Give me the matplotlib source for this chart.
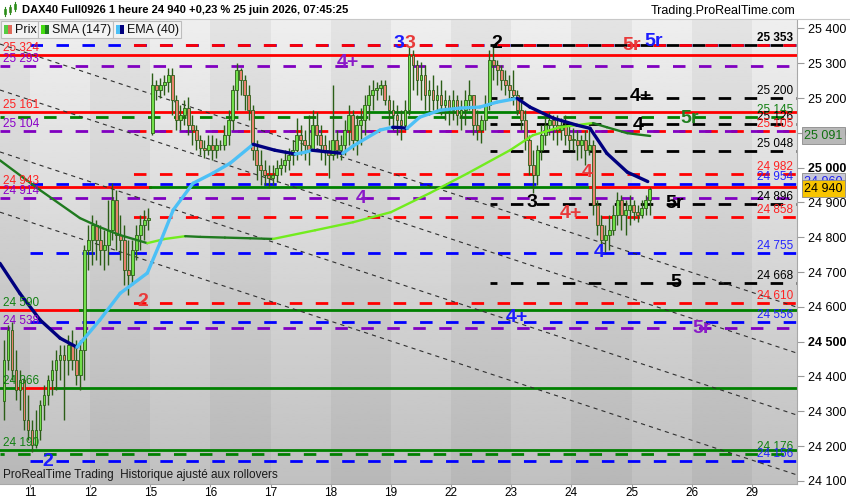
import numpy as np
import matplotlib
matplotlib.use("Agg")
import matplotlib.pyplot as plt
from matplotlib.patches import Rectangle
from matplotlib.transforms import blended_transform_factory

plt.rcParams['font.family'] = ['Liberation Sans', 'DejaVu Sans']
plt.rcParams['lines.scale_dashes'] = False

# x axis: trading days, index 0 = 11 juin
day_labels = ['11', '12', '15', '16', '17', '18', '19', '22', '23', '24', '25', '26', '29']
bars_per_day = 15

# hourly candles (10 juin partial .. 25 juin 07h)
opens = [24330, 24447, 24533, 24418, 24361, 24389, 24274,
         24246, 24202, 24246, 24317, 24346, 24389, 24418, 24447, 24461, 24447, 24490, 24447, 24404, 24475, 24763,
         24792, 24835, 24792, 24763, 24777, 24820, 24906, 24806, 24792, 24705, 24691, 24763, 24806, 24835, 24849,
         25100, 25237, 25222, 25237, 25245, 25266, 25194, 25136, 25151, 25171, 25122, 25108, 25079, 25056, 25050,
         25064, 25050, 25064, 25064, 25093, 25136, 25222, 25280, 25251, 25208, 25165, 25050, 25007, 24993, 24978,
         24970, 24978, 24998, 25007, 25021, 25036, 25050, 25093, 25079, 25064, 25050, 25122, 25093, 25064, 25050,
         25036, 25079, 25050, 25064, 25108, 25151, 25079, 25122, 25136, 25179, 25208, 25222, 25228, 25237, 25194,
         25165, 25151, 25136, 25122, 25165, 25323, 25294, 25251, 25266, 25208, 25222, 25194, 25208, 25179, 25194,
         25165, 25194, 25151, 25165, 25194, 25208, 25122, 25108, 25136, 25179, 25309, 25294, 25280, 25251, 25237,
         25222, 25208, 25165, 25136, 25079, 25007, 24978, 25050, 25093, 25122, 25136, 25122, 25108, 25122, 25093,
         25079, 25079, 25064, 25079, 25050, 25064, 24892, 24835, 24792, 24806, 24820, 24863, 24906, 24863, 24878,
         24892, 24872, 24863, 24883, 24906]
highs = [24505, 24547, 24556, 24475, 24418, 24395, 24346,
         24274, 24303, 24332, 24375, 24404, 24447, 24475, 24490, 24490, 24519, 24533, 24504, 24504, 24777, 24835,
         24863, 24849, 24835, 24820, 24906, 24955, 24935, 24863, 24835, 24792, 24792, 24835, 24863, 24878, 24883,
         25271, 25251, 25257, 25266, 25286, 25286, 25208, 25179, 25194, 25202, 25151, 25122, 25093, 25079, 25093,
         25093, 25085, 25079, 25122, 25165, 25237, 25300, 25286, 25266, 25237, 25179, 25079, 25050, 25021, 25007,
         25007, 25021, 25027, 25050, 25056, 25079, 25142, 25122, 25108, 25151, 25165, 25159, 25122, 25093, 25079,
         25237, 25108, 25093, 25136, 25179, 25165, 25151, 25171, 25208, 25237, 25251, 25245, 25251, 25251, 25208,
         25194, 25179, 25165, 25194, 25346, 25337, 25309, 25303, 25294, 25251, 25266, 25237, 25251, 25222, 25208,
         25222, 25208, 25194, 25222, 25251, 25208, 25165, 25151, 25208, 25337, 25352, 25309, 25294, 25280, 25266,
         25280, 25222, 25194, 25165, 25093, 25050, 25064, 25122, 25151, 25159, 25151, 25151, 25142, 25151, 25122,
         25113, 25108, 25093, 25108, 25113, 25079, 24906, 24863, 24835, 24863, 24892, 24929, 24921, 24906, 24921,
         24906, 24892, 24906, 24921, 24945]
lows = [24274, 24418, 24389, 24332, 24303, 24246, 24217,
        24182, 24194, 24217, 24274, 24317, 24346, 24361, 24389, 24274, 24404, 24418, 24375, 24361, 24389, 24705,
        24720, 24734, 24720, 24705, 24720, 24792, 24763, 24734, 24662, 24633, 24662, 24734, 24763, 24792, 24820,
        25093, 25194, 25199, 25208, 25217, 25151, 25108, 25108, 25122, 25093, 25064, 25050, 25036, 25027, 25036,
        25021, 25027, 25050, 25050, 25064, 25108, 25165, 25208, 25165, 25136, 25021, 24964, 24950, 24950, 24941,
        24950, 24958, 24978, 24987, 24993, 25007, 25021, 25036, 25021, 25007, 25050, 25064, 25021, 25007, 24970,
        25021, 25027, 25021, 25036, 25064, 25050, 25036, 25064, 25093, 25136, 25165, 25194, 25208, 25179, 25122,
        25108, 25093, 25079, 25108, 25151, 25222, 25208, 25194, 25165, 25151, 25165, 25159, 25151, 25136, 25122,
        25136, 25122, 25108, 25122, 25165, 25093, 25079, 25070, 25108, 25165, 25251, 25237, 25222, 25208, 25194,
        25179, 25151, 25108, 25050, 24978, 24927, 24950, 25021, 25064, 25093, 25079, 25064, 25079, 25064, 25050,
        25050, 25021, 25027, 25007, 25036, 24863, 24806, 24763, 24757, 24763, 24806, 24835, 24820, 24806, 24835,
        24849, 24843, 24855, 24863, 24863]
closes = [24447, 24533, 24418, 24361, 24389, 24274, 24246,
          24202, 24246, 24317, 24346, 24389, 24418, 24447, 24461, 24447, 24490, 24447, 24404, 24475, 24763, 24792,
          24835, 24792, 24763, 24777, 24820, 24906, 24806, 24792, 24705, 24691, 24763, 24806, 24835, 24849, 24855,
          25237, 25222, 25237, 25245, 25266, 25194, 25136, 25151, 25171, 25122, 25108, 25079, 25056, 25050, 25064,
          25050, 25064, 25064, 25093, 25136, 25222, 25280, 25251, 25208, 25165, 25050, 25007, 24993, 24978, 24970,
          24978, 24998, 25007, 25021, 25036, 25050, 25093, 25079, 25064, 25050, 25122, 25093, 25064, 25050, 25036,
          25079, 25050, 25064, 25108, 25151, 25079, 25122, 25136, 25179, 25208, 25222, 25228, 25237, 25194, 25165,
          25151, 25136, 25122, 25165, 25323, 25294, 25251, 25266, 25208, 25222, 25194, 25208, 25179, 25194, 25165,
          25194, 25151, 25165, 25194, 25208, 25122, 25108, 25136, 25179, 25309, 25294, 25280, 25251, 25237, 25222,
          25208, 25165, 25136, 25079, 25007, 24978, 25050, 25093, 25122, 25136, 25122, 25108, 25122, 25093, 25079,
          25079, 25064, 25079, 25050, 25064, 24892, 24835, 24792, 24806, 24820, 24863, 24906, 24863, 24878, 24892,
          24872, 24863, 24883, 24906, 24940]

# moving averages (day position, price)
sma_x = [-0.50, 0.17, 0.83, 1.16, 1.50, 1.95, 2.24, 2.58, 2.83, 3.24, 3.66, 4.04, 4.74, 5.37,
         6.00, 6.65, 7.28, 7.98, 8.36, 8.81, 9.36, 9.59, 9.93, 10.31]
sma_y = [25021, 24935, 24855, 24829, 24806, 24783, 24795, 24803, 24801, 24799, 24797, 24795, 24820, 24843,
         24872, 24927, 24984, 25050, 25093, 25116, 25128, 25116, 25099, 25091]
ema_x = [-0.50, -0.17, 0.17, 0.50, 0.78, 1.16, 1.50, 1.95, 2.16, 2.38, 2.71, 3.04, 3.33, 3.71, 4.07,
         4.41, 4.57, 4.69, 4.90, 5.20, 5.37, 5.82, 6.03, 6.15, 6.27, 6.48, 6.82, 7.15, 7.48, 7.76,
         8.10, 8.31, 8.70, 9.09, 9.31, 9.59, 9.93, 10.27]
ema_y = [24725, 24639, 24562, 24510, 24484, 24562, 24639, 24697, 24783, 24878, 24955, 24984, 25013, 25067, 25050,
         25039, 25044, 25050, 25046, 25041, 25062, 25108, 25116, 25115, 25113, 25145, 25165, 25171, 25174, 25188,
         25199, 25174, 25142, 25122, 25113, 25041, 24987, 24960]

# horizontal levels
dash_price = [25353, 25353, 25353, 25293, 25200, 25145, 25126, 25105, 25104, 25048, 24982, 24954,
              24914, 24896, 24858, 24755, 24668, 24610, 24556, 24538, 24176, 24156]
dash_group = ['blue', 'red', 'black', 'purple', 'black', 'green', 'black', 'red', 'purple', 'black', 'red', 'blue',
              'purple', 'black', 'red', 'blue', 'black', 'red', 'blue', 'purple', 'green', 'blue']
solid_price = [25324, 25161, 24943, 24590, 24366, 24190]
solid_pieces = [[(-0.5, 12.75, 'red')],
                [(-0.5, 5.60, 'red'), (5.60, 8.15, 'green'), (8.15, 12.75, 'red')],
                [(-0.5, 2.0, 'red'), (2.0, 9.31, 'green'), (9.31, 12.75, 'red')],
                [(-0.5, 0.83, 'red'), (0.83, 12.75, 'green')],
                [(-0.5, -0.2, 'green'), (-0.2, 0.42, 'red'), (0.42, 12.75, 'green')],
                [(-0.5, 12.75, 'green')]]
left_labels = [(25324, 'red'), (25293, 'purple'), (25161, 'red'), (25104, 'purple'), (24943, 'red'),
               (24914, 'purple'), (24590, 'green'), (24538, 'purple'), (24366, 'green'), (24190, 'green')]
right_labels = [(25353, 'black'), (25200, 'black'), (25145, 'green'), (25126, 'black'), (25105, 'red'),
                (25048, 'black'), (24982, 'red'), (24954, 'blue'), (24896, 'black'), (24858, 'red'),
                (24755, 'blue'), (24668, 'black'), (24610, 'red'), (24556, 'blue'), (24176, 'green'),
                (24156, 'blue')]

# descending channel lines: price at left edge / right edge
diag_start = [25355, 25223, 25045, 24872]
diag_end = [24599, 24467, 24289, 24117]

# wave count marks
wave_text = ['3', '3', '4+', '2', '5r', '5r', '4+', '4', '5r', '4', '3', '4+', '5r', '4', '5', '4+', '5r',
             '4', '2', '2']
wave_color = ['blue', 'red', 'purple', 'black', 'red', 'blue', 'black', 'black', 'green', 'red', 'black', 'red',
              'black', 'blue', 'black', 'blue', 'purple', 'purple', 'red', 'blue']
wave_x = [6.13, 6.32, 5.29, 7.76, 10.01, 10.36, 10.16, 10.11, 10.97, 9.26, 8.35, 8.99, 10.71, 9.46, 10.74,
          8.10, 11.17, 5.50, 1.88, 0.30]
wave_y = [25358, 25358, 25303, 25358, 25352, 25361, 25203, 25122, 25142, 24987, 24901, 24867, 24898, 24757,
          24671, 24568, 24539, 24910, 24614, 24157]

line_col = {'red': '#ff0000', 'blue': '#0000ff', 'purple': '#8000c0', 'green': '#008000', 'black': '#000000'}
text_col = {'red': '#ff2222', 'blue': '#2424ff', 'purple': '#8a00c8', 'green': '#128012', 'black': '#000000'}
wave_col = {'red': '#e83a3a', 'blue': '#1c1cff', 'purple': '#8a1ac8', 'green': '#1f7f1f', 'black': '#000000'}
group_start = {'blue': 0.0, 'red': 1.5, 'black': 7.65, 'purple': -0.5, 'green': -0.5}
group_phase = {'blue': 0, 'red': 9, 'black': 4, 'purple': 2, 'green': 6}

XMIN, XMAX = -0.4988, 12.751
YMIN, YMAX = 24091, 25427

fig = plt.figure(figsize=(8.5, 5), dpi=100)
ax = fig.add_axes([0, 16 / 500, 797 / 850, 465 / 500])
ax.set_xlim(XMIN, XMAX)
ax.set_ylim(YMIN, YMAX)

# background: vertical gradient + alternating day bands
grad = np.linspace(0.755, 0.935, 256).reshape(-1, 1)
ax.imshow(grad, extent=[XMIN, XMAX, YMIN, YMAX], origin='lower', aspect='auto',
          cmap='gray', vmin=0, vmax=1, zorder=0)
for d in range(-1, 13, 2):
    ax.axvspan(d, d + 1, color='k', alpha=0.045, lw=0, zorder=0.5)

# levels
for p, g in zip(dash_price, dash_group):
    ax.plot([group_start[g], XMAX], [p, p], color=line_col[g], lw=2.0,
            linestyle=(group_phase[g], (9, 9.7)), zorder=2)
for p, pieces in zip(solid_price, solid_pieces):
    for x0, x1, c in pieces:
        ax.plot([x0, x1], [p, p], color=line_col[c], lw=2.0, zorder=2.1)

for s, e in zip(diag_start, diag_end):
    ax.plot([XMIN, XMAX], [s, e], color='#303030', lw=0.8, linestyle=(0, (3, 3)), zorder=2.2)

fmt = lambda v: f"{int(v):,}".replace(',', ' ')
for p, c in left_labels:
    ax.annotate(fmt(p), (XMIN + 0.05, p), xytext=(0, 5), textcoords='offset points',
                va='center', ha='left', color=text_col[c], fontsize=8.5, zorder=6)
for p, c in right_labels:
    ax.annotate(fmt(p), (XMAX - 0.07, p), xytext=(0, 5), textcoords='offset points',
                va='center', ha='right', color=text_col[c], fontsize=8.5, zorder=6,
                fontweight='bold' if p == 25353 else 'normal')

# candles
bar_x = []
for d in range(-1, 11):
    slots = range(bars_per_day)
    if d == -1:
        slots = range(8, bars_per_day)
    if d == 10:
        slots = range(0, 5)
    for j in slots:
        bar_x.append(d + (j + 0.5) / bars_per_day)

edge = '#2b5e17'
bw = 0.7 / bars_per_day
for x, o, h, l, c in zip(bar_x, opens, highs, lows, closes):
    ax.vlines(x, min(l, o, c), max(h, o, c), color=edge, lw=1.0, zorder=3)
    fill = '#72e04a' if c >= o else '#e8826e'
    ax.bar(x, max(abs(c - o), 2), bottom=min(o, c), width=bw, color=fill,
           edgecolor=edge, linewidth=0.6, zorder=3.1)


def draw_ma(xs, ys, up_col, dn_col, lw):
    for i in range(len(xs) - 1):
        col = up_col if ys[i + 1] >= ys[i] else dn_col
        ax.plot(xs[i:i + 2], ys[i:i + 2], color=col, lw=lw, solid_capstyle='round', zorder=4)


draw_ma(sma_x, sma_y, '#72ec1e', '#1f7a1f', 1.7)
draw_ma(ema_x, ema_y, '#4cc0f6', '#00007f', 2.4)

for t, c, x, y in zip(wave_text, wave_color, wave_x, wave_y):
    ax.text(x, y, t, color=wave_col[c], fontsize=14, fontweight='bold',
            ha='center', va='center', zorder=5)

# axes
ax.yaxis.tick_right()
yt = list(range(24100, 25401, 100))
ax.set_yticks(yt, [fmt(v) for v in yt])
for lab, v in zip(ax.get_yticklabels(), yt):
    if v in (25000, 24500):
        lab.set_fontweight('bold')
ax.set_xticks(range(len(day_labels)), day_labels)
ax.tick_params(axis='y', length=5, color='#9a9a9a', labelsize=9, pad=3)
ax.tick_params(axis='x', length=2, color='#9a9a9a', labelsize=8.5, pad=0)
for side in ('left', 'top'):
    ax.spines[side].set_visible(False)
for side in ('right', 'bottom'):
    ax.spines[side].set_color('#a8a8a8')

tr = blended_transform_factory(ax.transAxes, ax.transData)
for val, fc, tc in [(25091, '#b8b8b8', '#107010'), (24960, '#c6c6d6', '#2020ee'), (24940, '#f8c400', '#000000')]:
    ax.text(1.009, val, fmt(val), transform=tr, va='center', ha='left', fontsize=9, color=tc,
            clip_on=False, zorder=7,
            bbox=dict(boxstyle='square,pad=0.2', fc=fc, ec='#8a8a8a', lw=0.6))

ax.text(XMIN + 0.05, 24118, 'ProRealTime Trading  Historique ajusté aux rollovers',
        fontsize=8.5, color='#1a1a1a', va='center', ha='left', zorder=6)

# header and legend boxes, in pixel space
ov = fig.add_axes([0, 0, 1, 1], zorder=10)
ov.set_xlim(0, 850)
ov.set_ylim(500, 0)
ov.axis('off')
ov.patch.set_alpha(0)
ov.add_patch(Rectangle((0, 0), 850, 19, fc='white', ec='none'))
ov.plot([0, 850], [19, 19], color='#c8c8c8', lw=0.8)
ov.text(22, 10, 'DAX40 Full0926 1 heure 24 940 +0,23 % 25 juin 2026, 07:45:25',
        fontsize=8, fontweight='bold', va='center', ha='left')
ov.text(795, 11, 'Trading.ProRealTime.com', fontsize=9, va='center', ha='right')
for i, (bx, by) in enumerate([(5, 11), (10, 9), (15, 6)]):
    ov.plot([bx, bx], [by - 4, by + 5], color='#2b8a1b', lw=0.8)
    ov.add_patch(Rectangle((bx - 1.3, by - 2), 2.6, 5, fc='#62d63a' if i != 1 else '#e8826e', ec='#2b8a1b', lw=0.5))

boxes = [(1, 37, 'Prix', ('#55cc44', '#e06a5a')),
         (38, 75, 'SMA (147)', ('#44dd11', '#1f7a1f')),
         (113, 68, 'EMA (40)', ('#4cc0f6', '#00007f'))]
for x0, w, label, (c1, c2) in boxes:
    ov.add_patch(Rectangle((x0, 21), w, 17, fc='#f3f3f3', ec='#bdbdbd', lw=0.8))
    ov.add_patch(Rectangle((x0 + 3, 25), 4, 9, fc=c1, ec='none'))
    ov.add_patch(Rectangle((x0 + 7, 25), 4, 9, fc=c2, ec='none'))
    ov.text(x0 + 14, 30, label, fontsize=9, va='center', ha='left', color='#111111')

fig.savefig('out.png', dpi=100)
